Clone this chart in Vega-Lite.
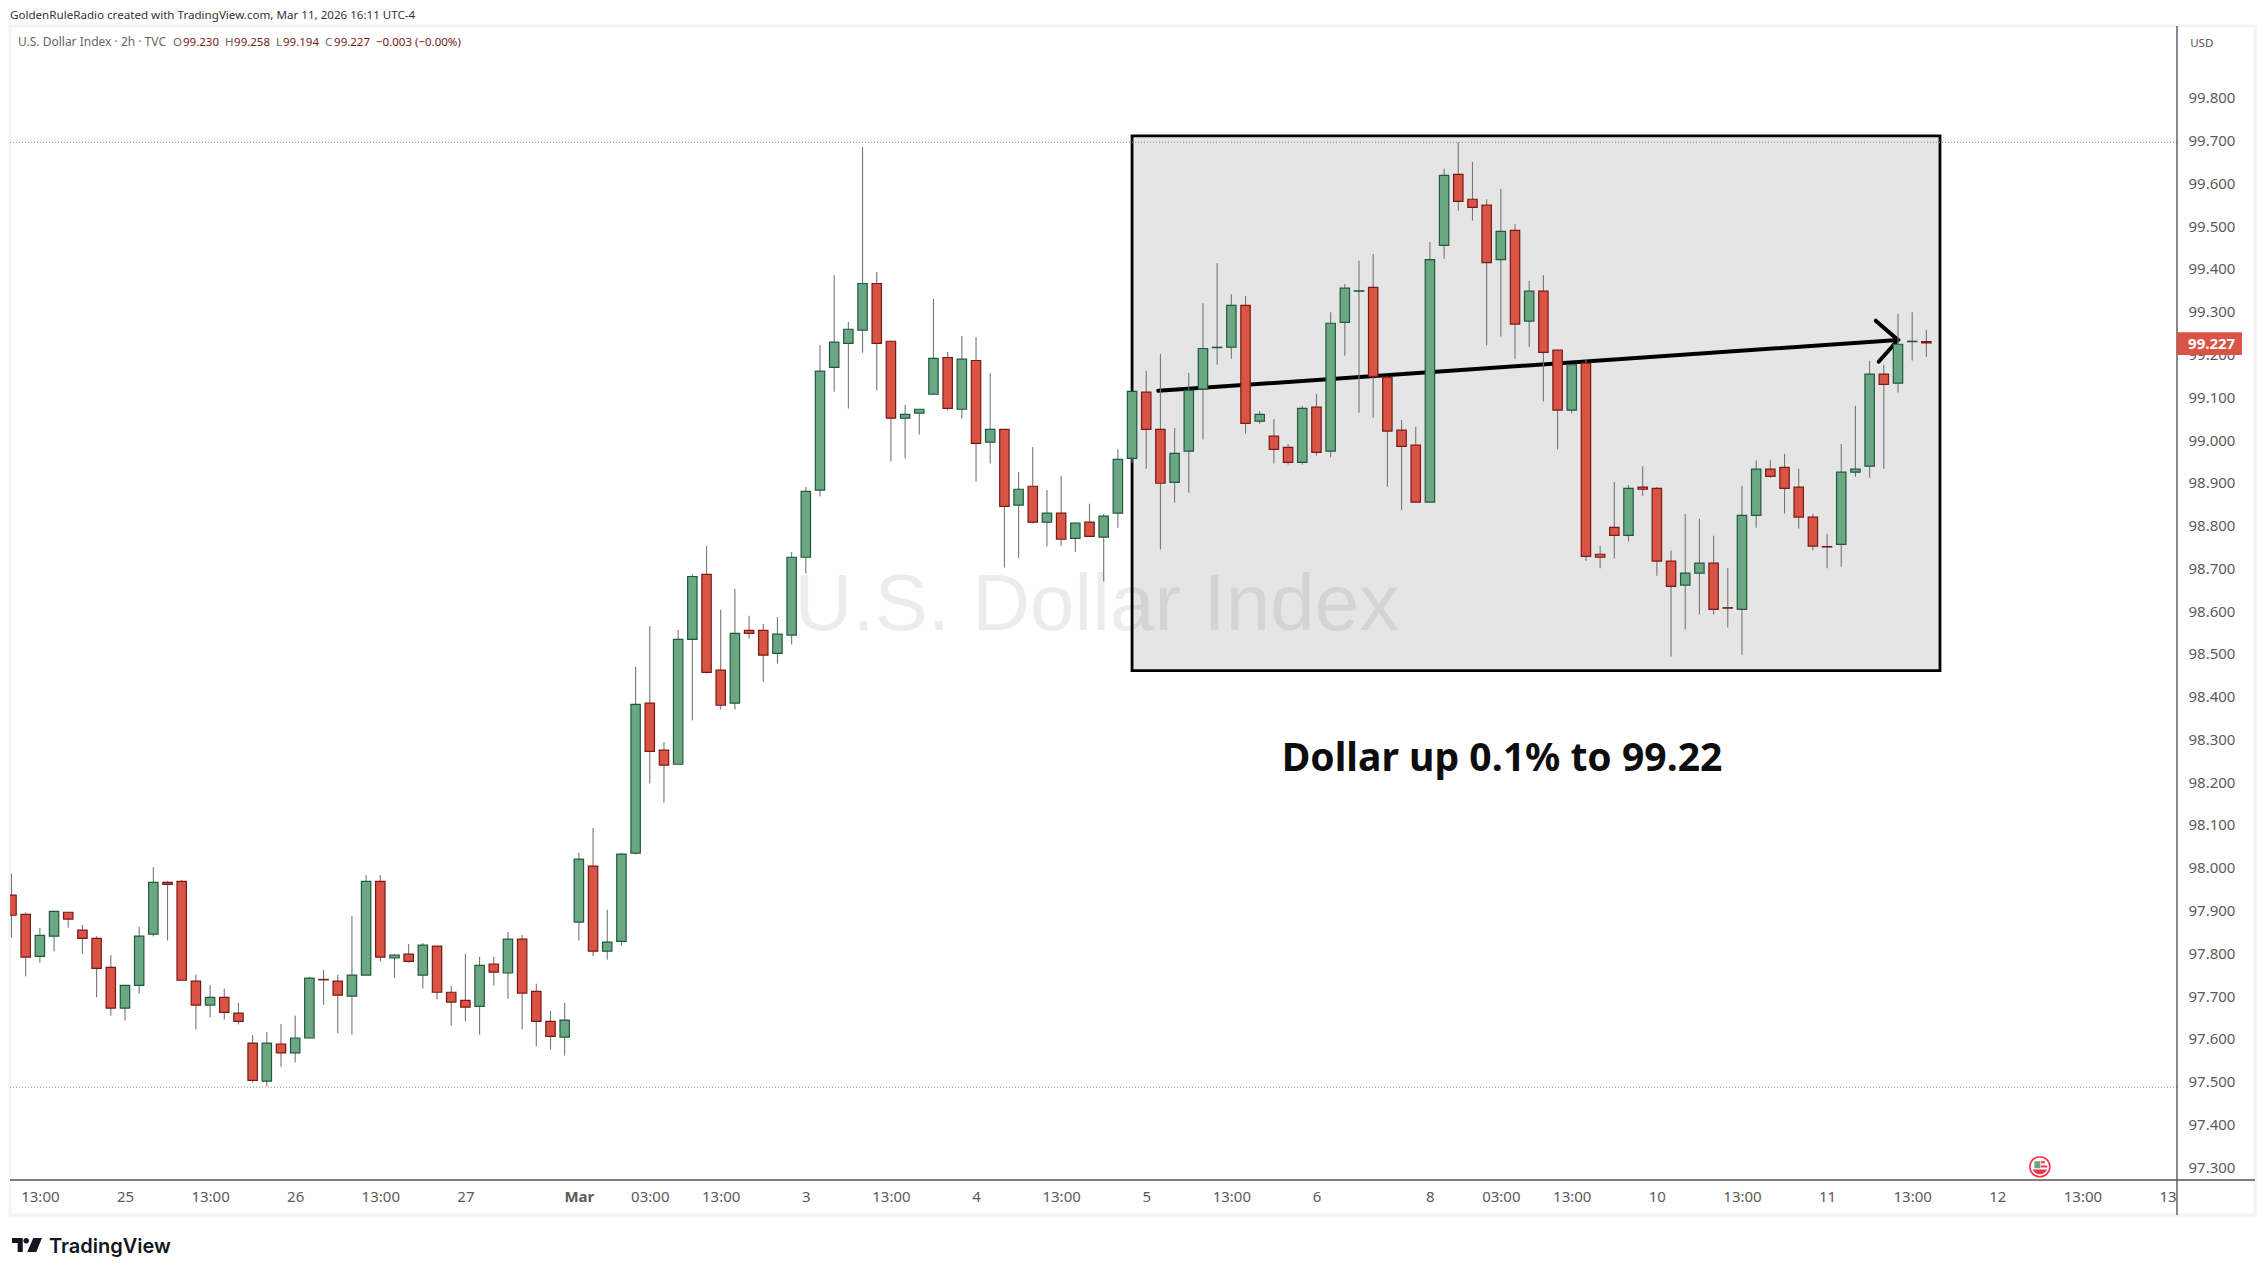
{
"$schema":"https://vega.github.io/schema/vega-lite/v6.json",
"autosize":{"type":"none"},
"padding":{"left":10,"top":26,"right":88,"bottom":96},
"width":2167,"height":1154,
"background":"#ffffff",
"view":{"stroke":null},
"config":{"axis":{"grid":false,"domain":false,"ticks":false,"title":null}},
"datasets":{
"candles":[
{"bar":0,"o":97.936,"h":97.986,"l":97.837,"c":97.889},
{"bar":1,"o":97.891,"h":97.896,"l":97.746,"c":97.791},
{"bar":2,"o":97.793,"h":97.859,"l":97.778,"c":97.842},
{"bar":3,"o":97.840,"h":97.898,"l":97.804,"c":97.898},
{"bar":4,"o":97.896,"h":97.896,"l":97.860,"c":97.880},
{"bar":5,"o":97.854,"h":97.866,"l":97.799,"c":97.835},
{"bar":6,"o":97.835,"h":97.840,"l":97.697,"c":97.765},
{"bar":7,"o":97.767,"h":97.796,"l":97.654,"c":97.672},
{"bar":8,"o":97.672,"h":97.725,"l":97.643,"c":97.725},
{"bar":9,"o":97.725,"h":97.862,"l":97.706,"c":97.840},
{"bar":10,"o":97.845,"h":98.002,"l":97.839,"c":97.966},
{"bar":11,"o":97.966,"h":97.969,"l":97.830,"c":97.961},
{"bar":12,"o":97.968,"h":97.971,"l":97.737,"c":97.737},
{"bar":13,"o":97.735,"h":97.750,"l":97.622,"c":97.679},
{"bar":14,"o":97.679,"h":97.726,"l":97.650,"c":97.697},
{"bar":15,"o":97.697,"h":97.717,"l":97.645,"c":97.662},
{"bar":16,"o":97.660,"h":97.684,"l":97.634,"c":97.641},
{"bar":17,"o":97.590,"h":97.609,"l":97.498,"c":97.503},
{"bar":18,"o":97.501,"h":97.616,"l":97.489,"c":97.590},
{"bar":19,"o":97.588,"h":97.635,"l":97.535,"c":97.567},
{"bar":20,"o":97.567,"h":97.654,"l":97.545,"c":97.602},
{"bar":21,"o":97.602,"h":97.745,"l":97.602,"c":97.742},
{"bar":22,"o":97.739,"h":97.761,"l":97.680,"c":97.738},
{"bar":23,"o":97.735,"h":97.750,"l":97.613,"c":97.702},
{"bar":24,"o":97.700,"h":97.887,"l":97.610,"c":97.749},
{"bar":25,"o":97.749,"h":97.983,"l":97.749,"c":97.968},
{"bar":26,"o":97.968,"h":97.983,"l":97.781,"c":97.791},
{"bar":27,"o":97.789,"h":97.799,"l":97.743,"c":97.796},
{"bar":28,"o":97.798,"h":97.822,"l":97.778,"c":97.781},
{"bar":29,"o":97.749,"h":97.824,"l":97.718,"c":97.819},
{"bar":30,"o":97.817,"h":97.817,"l":97.692,"c":97.709},
{"bar":31,"o":97.709,"h":97.724,"l":97.631,"c":97.686},
{"bar":32,"o":97.690,"h":97.799,"l":97.641,"c":97.674},
{"bar":33,"o":97.676,"h":97.792,"l":97.610,"c":97.772},
{"bar":34,"o":97.775,"h":97.792,"l":97.725,"c":97.756},
{"bar":35,"o":97.754,"h":97.850,"l":97.694,"c":97.833},
{"bar":36,"o":97.833,"h":97.843,"l":97.622,"c":97.707},
{"bar":37,"o":97.711,"h":97.729,"l":97.582,"c":97.641},
{"bar":38,"o":97.641,"h":97.665,"l":97.575,"c":97.606},
{"bar":39,"o":97.604,"h":97.684,"l":97.561,"c":97.644},
{"bar":40,"o":97.873,"h":98.035,"l":97.830,"c":98.020},
{"bar":41,"o":98.004,"h":98.093,"l":97.793,"c":97.805},
{"bar":42,"o":97.805,"h":97.902,"l":97.785,"c":97.826},
{"bar":43,"o":97.828,"h":98.035,"l":97.818,"c":98.032},
{"bar":44,"o":98.034,"h":98.470,"l":98.031,"c":98.382},
{"bar":45,"o":98.385,"h":98.565,"l":98.197,"c":98.272},
{"bar":46,"o":98.275,"h":98.294,"l":98.152,"c":98.240},
{"bar":47,"o":98.242,"h":98.556,"l":98.242,"c":98.534},
{"bar":48,"o":98.534,"h":98.686,"l":98.344,"c":98.681},
{"bar":49,"o":98.686,"h":98.752,"l":98.454,"c":98.457},
{"bar":50,"o":98.462,"h":98.603,"l":98.370,"c":98.380},
{"bar":51,"o":98.385,"h":98.652,"l":98.370,"c":98.548},
{"bar":52,"o":98.555,"h":98.589,"l":98.536,"c":98.548},
{"bar":53,"o":98.555,"h":98.570,"l":98.435,"c":98.497},
{"bar":54,"o":98.501,"h":98.586,"l":98.477,"c":98.546},
{"bar":55,"o":98.544,"h":98.738,"l":98.522,"c":98.726},
{"bar":56,"o":98.726,"h":98.890,"l":98.688,"c":98.880},
{"bar":57,"o":98.883,"h":99.222,"l":98.868,"c":99.161},
{"bar":58,"o":99.170,"h":99.386,"l":99.113,"c":99.229},
{"bar":59,"o":99.226,"h":99.276,"l":99.074,"c":99.259},
{"bar":60,"o":99.257,"h":99.685,"l":99.204,"c":99.366},
{"bar":61,"o":99.366,"h":99.393,"l":99.116,"c":99.226},
{"bar":62,"o":99.231,"h":99.233,"l":98.950,"c":99.051},
{"bar":63,"o":99.051,"h":99.082,"l":98.957,"c":99.060},
{"bar":64,"o":99.063,"h":99.072,"l":99.013,"c":99.072},
{"bar":65,"o":99.107,"h":99.330,"l":99.107,"c":99.191},
{"bar":66,"o":99.193,"h":99.206,"l":99.069,"c":99.074},
{"bar":67,"o":99.072,"h":99.243,"l":99.050,"c":99.189},
{"bar":68,"o":99.186,"h":99.241,"l":98.903,"c":98.992},
{"bar":69,"o":98.995,"h":99.157,"l":98.945,"c":99.025},
{"bar":70,"o":99.025,"h":99.025,"l":98.702,"c":98.845},
{"bar":71,"o":98.848,"h":98.925,"l":98.725,"c":98.885},
{"bar":72,"o":98.892,"h":98.984,"l":98.805,"c":98.808},
{"bar":73,"o":98.808,"h":98.883,"l":98.751,"c":98.829},
{"bar":74,"o":98.829,"h":98.916,"l":98.753,"c":98.768},
{"bar":75,"o":98.770,"h":98.808,"l":98.739,"c":98.806},
{"bar":76,"o":98.808,"h":98.851,"l":98.775,"c":98.775},
{"bar":77,"o":98.773,"h":98.827,"l":98.669,"c":98.822},
{"bar":78,"o":98.829,"h":98.979,"l":98.795,"c":98.955},
{"bar":79,"o":98.957,"h":99.114,"l":98.947,"c":99.114},
{"bar":80,"o":99.112,"h":99.162,"l":98.933,"c":99.025},
{"bar":81,"o":99.025,"h":99.201,"l":98.744,"c":98.899},
{"bar":82,"o":98.901,"h":99.028,"l":98.854,"c":98.969},
{"bar":83,"o":98.974,"h":99.157,"l":98.877,"c":99.116},
{"bar":84,"o":99.119,"h":99.320,"l":99.001,"c":99.214},
{"bar":85,"o":99.216,"h":99.414,"l":99.176,"c":99.217},
{"bar":86,"o":99.217,"h":99.341,"l":99.190,"c":99.315},
{"bar":87,"o":99.315,"h":99.337,"l":99.015,"c":99.039},
{"bar":88,"o":99.044,"h":99.068,"l":99.038,"c":99.060},
{"bar":89,"o":99.009,"h":99.049,"l":98.945,"c":98.978},
{"bar":90,"o":98.983,"h":98.991,"l":98.943,"c":98.948},
{"bar":91,"o":98.948,"h":99.080,"l":98.943,"c":99.074},
{"bar":92,"o":99.077,"h":99.108,"l":98.964,"c":98.971},
{"bar":93,"o":98.974,"h":99.299,"l":98.959,"c":99.273},
{"bar":94,"o":99.275,"h":99.365,"l":99.197,"c":99.355},
{"bar":95,"o":99.348,"h":99.419,"l":99.064,"c":99.349},
{"bar":96,"o":99.357,"h":99.435,"l":99.052,"c":99.149},
{"bar":97,"o":99.147,"h":99.149,"l":98.891,"c":99.021},
{"bar":98,"o":99.023,"h":99.047,"l":98.837,"c":98.985},
{"bar":99,"o":98.988,"h":99.031,"l":98.855,"c":98.855},
{"bar":100,"o":98.855,"h":99.463,"l":98.855,"c":99.422},
{"bar":101,"o":99.455,"h":99.634,"l":99.424,"c":99.619},
{"bar":102,"o":99.621,"h":99.696,"l":99.536,"c":99.558},
{"bar":103,"o":99.563,"h":99.650,"l":99.513,"c":99.544},
{"bar":104,"o":99.549,"h":99.563,"l":99.221,"c":99.415},
{"bar":105,"o":99.422,"h":99.587,"l":99.242,"c":99.488},
{"bar":106,"o":99.490,"h":99.505,"l":99.190,"c":99.271},
{"bar":107,"o":99.278,"h":99.372,"l":99.218,"c":99.348},
{"bar":108,"o":99.348,"h":99.386,"l":99.090,"c":99.205},
{"bar":109,"o":99.210,"h":99.210,"l":98.978,"c":99.070},
{"bar":110,"o":99.070,"h":99.176,"l":99.062,"c":99.176},
{"bar":111,"o":99.180,"h":99.189,"l":98.718,"c":98.728},
{"bar":112,"o":98.733,"h":98.752,"l":98.700,"c":98.726},
{"bar":113,"o":98.796,"h":98.902,"l":98.723,"c":98.777},
{"bar":114,"o":98.777,"h":98.895,"l":98.763,"c":98.887},
{"bar":115,"o":98.890,"h":98.939,"l":98.870,"c":98.885},
{"bar":116,"o":98.887,"h":98.890,"l":98.683,"c":98.717},
{"bar":117,"o":98.717,"h":98.742,"l":98.494,"c":98.658},
{"bar":118,"o":98.661,"h":98.827,"l":98.557,"c":98.689},
{"bar":119,"o":98.689,"h":98.816,"l":98.592,"c":98.712},
{"bar":120,"o":98.712,"h":98.776,"l":98.592,"c":98.604},
{"bar":121,"o":98.608,"h":98.701,"l":98.562,"c":98.607},
{"bar":122,"o":98.604,"h":98.893,"l":98.498,"c":98.824},
{"bar":123,"o":98.824,"h":98.953,"l":98.795,"c":98.932},
{"bar":124,"o":98.932,"h":98.953,"l":98.912,"c":98.915},
{"bar":125,"o":98.936,"h":98.968,"l":98.828,"c":98.887},
{"bar":126,"o":98.890,"h":98.932,"l":98.793,"c":98.820},
{"bar":127,"o":98.820,"h":98.827,"l":98.742,"c":98.752},
{"bar":128,"o":98.751,"h":98.781,"l":98.700,"c":98.750},
{"bar":129,"o":98.756,"h":98.991,"l":98.704,"c":98.925},
{"bar":130,"o":98.925,"h":99.080,"l":98.914,"c":98.932},
{"bar":131,"o":98.939,"h":99.185,"l":98.912,"c":99.154},
{"bar":132,"o":99.154,"h":99.176,"l":98.933,"c":99.130},
{"bar":133,"o":99.133,"h":99.295,"l":99.111,"c":99.224},
{"bar":134,"o":99.230,"h":99.299,"l":99.186,"c":99.231},
{"bar":135,"o":99.230,"h":99.258,"l":99.194,"c":99.227}
]
},
"encoding":{
"x":{"field":"bar","type":"quantitative","title":null,
"scale":{"domain":[-0.106,152.67],"nice":false,"zero":false,"padding":0},
"axis":{"orient":"bottom","domain":false,"grid":false,"ticks":false,"labelPadding":9,"labelFontSize":15,"labelFont":"Noto Sans","labelColor":"#5a5a5a","labelOverlap":false,"labelBound":false,"labelFlush":false,
"values":[2,8,14,20,26,32,40,45,50,56,62,68,74,80,86,92,100,105,110,116,122,128,134,140,146,152],
"labelExpr":"['13:00','25','13:00','26','13:00','27','Mar','03:00','13:00','3','13:00','4','13:00','5','13:00','6','8','03:00','13:00','10','13:00','11','13:00','12','13:00','13'][indexof([2,8,14,20,26,32,40,45,50,56,62,68,74,80,86,92,100,105,110,116,122,128,134,140,146,152],datum.value)]",
"labelFontWeight":{"condition":{"test":"datum.value==40","value":"bold"},"value":"normal"}}}
},
"layer":[
{"data":{"values":[{"bar":-0.106,"bar2":158.17,"price":99.968,"price2":97.188}]},
"mark":{"type":"rect","fill":null,"stroke":"#f3f4f6","strokeWidth":3},
"encoding":{"x2":{"field":"bar2"},
"y":{"field":"price","type":"quantitative","title":null,"scale":{"domain":[97.27,99.968],"nice":false,"zero":false},
"axis":{"orient":"right","domain":false,"grid":false,"ticks":false,"labelPadding":11,"labelFontSize":15,"labelFont":"Noto Sans","labelColor":"#5a5a5a","values":[97.3,97.4,97.5,97.6,97.7,97.8,97.9,98.0,98.1,98.2,98.3,98.4,98.5,98.6,98.7,98.8,98.9,99.0,99.1,99.2,99.3,99.4,99.5,99.6,99.7,99.8],"format":".3f","labelOverlap":false}},
"y2":{"field":"price2"}}},
{"data":{"values":[{"bar":79.0,"bar2":135.96,"price":99.711,"price2":98.461}]},
"mark":{"type":"rect","fill":"#e5e5e5","stroke":"#000000","strokeWidth":2.8},
"encoding":{"x2":{"field":"bar2"},"y":{"field":"price","type":"quantitative","title":null,"scale":{"domain":[97.27,99.968]}},"y2":{"field":"price2"}}},
{"data":{"values":[{"bar":55.2,"price":98.556,"label":"U.S. Dollar Index"}]},
"mark":{"type":"text","font":"Liberation Sans","fontSize":80,"align":"left","baseline":"alphabetic","fill":"#000000","fillOpacity":0.075},
"encoding":{"y":{"field":"price","type":"quantitative","title":null,"scale":{"domain":[97.27,99.968]}},"text":{"field":"label"}}},
{"data":{"values":[{"bar":-0.106,"bar2":152.67,"price":99.696},{"bar":-0.106,"bar2":152.67,"price":97.487}]},
"mark":{"type":"rule","stroke":"#8a8a8a","strokeWidth":1,"strokeDash":[1,2]},
"encoding":{"x2":{"field":"bar2"},"y":{"field":"price","type":"quantitative","title":null,"scale":{"domain":[97.27,99.968]}}}},
{"data":{"values":[{"bar":80.85,"price":99.115},{"bar":133.0,"price":99.234}]},
"mark":{"type":"line","stroke":"#000000","strokeWidth":4,"strokeCap":"round"},
"encoding":{"y":{"field":"price","type":"quantitative","title":null,"scale":{"domain":[97.27,99.968]}}}},
{"data":{"values":[{"bar":131.43,"price":99.279,"k":1},{"bar":133.0,"price":99.234,"k":2},{"bar":131.64,"price":99.183,"k":3}]},
"mark":{"type":"line","stroke":"#000000","strokeWidth":4,"strokeCap":"round","strokeJoin":"miter"},
"encoding":{"order":{"field":"k"},"y":{"field":"price","type":"quantitative","title":null,"scale":{"domain":[97.27,99.968]}}}},
{"data":{"name":"candles"},
"mark":{"type":"rule","stroke":"#767676","strokeWidth":1.1},
"encoding":{"y":{"field":"l","type":"quantitative","title":null,"scale":{"domain":[97.27,99.968]}},"y2":{"field":"h"}}},
{"data":{"name":"candles"},
"mark":{"type":"bar","size":9.4,"orient":"vertical","strokeWidth":1.2,"clip":true},
"encoding":{"y":{"field":"o","type":"quantitative","title":null,"scale":{"domain":[97.27,99.968]}},"y2":{"field":"c"},
"fill":{"condition":{"test":"datum.c>=datum.o","value":"#6ca784"},"value":"#d95444"},
"stroke":{"condition":{"test":"datum.c>=datum.o","value":"#1f5a3e"},"value":"#7a1a14"}}},
{"data":{"values":[{"bar":-0.106,"bar2":158.17,"price":97.27}]},
"mark":{"type":"rule","stroke":"#555555","strokeWidth":1.4},
"encoding":{"x2":{"field":"bar2"},"y":{"field":"price","type":"quantitative","title":null,"scale":{"domain":[97.27,99.968]}}}},
{"data":{"values":[{"bar":152.67,"price":99.968,"price2":97.188}]},
"mark":{"type":"rule","stroke":"#555555","strokeWidth":1.4},
"encoding":{"y":{"field":"price","type":"quantitative","title":null,"scale":{"domain":[97.27,99.968]}},"y2":{"field":"price2"}}},
{"data":{"values":[{"bar":152.67,"bar2":157.25,"price":99.252,"price2":99.199}]},
"mark":{"type":"rect","fill":"#d95444","cornerRadius":1},
"encoding":{"x2":{"field":"bar2"},"y":{"field":"price","type":"quantitative","title":null,"scale":{"domain":[97.27,99.968]}},"y2":{"field":"price2"}}},
{"data":{"values":[
{"bar":-0.106,"price":99.984,"label":"GoldenRuleRadio created with TradingView.com, Mar 11, 2026 16:11 UTC-4","col":"#333333","size":11.6},
{"bar":0.458,"price":99.921,"label":"U.S. Dollar Index · 2h · TVC","col":"#666666","size":12},
{"bar":11.39,"price":99.921,"label":"O","col":"#666666","size":11.5},
{"bar":12.09,"price":99.921,"label":"99.230","col":"#7a1a14","size":11.5},
{"bar":15.05,"price":99.921,"label":"H","col":"#666666","size":11.5},
{"bar":15.69,"price":99.921,"label":"99.258","col":"#7a1a14","size":11.5},
{"bar":18.65,"price":99.921,"label":"L","col":"#666666","size":11.5},
{"bar":19.14,"price":99.921,"label":"99.194","col":"#7a1a14","size":11.5},
{"bar":22.1,"price":99.921,"label":"C","col":"#666666","size":11.5},
{"bar":22.74,"price":99.921,"label":"99.227","col":"#7a1a14","size":11.5},
{"bar":25.7,"price":99.921,"label":"−0.003 (−0.00%)","col":"#7a1a14","size":11.5},
{"bar":153.6,"price":99.919,"label":"USD","col":"#555555","size":11.5}
]},
"mark":{"type":"text","align":"left","baseline":"alphabetic","font":"Noto Sans"},
"encoding":{"y":{"field":"price","type":"quantitative","title":null,"scale":{"domain":[97.27,99.968]}},"text":{"field":"label"},
"color":{"field":"col","type":"nominal","scale":null,"legend":null},
"size":{"field":"size","type":"quantitative","scale":null,"legend":null}}},
{"data":{"values":[
{"bar":153.45,"price":99.2126,"label":"99.227","col":"#ffffff","size":15},
{"bar":89.55,"price":98.227,"label":"Dollar up 0.1% to 99.22","col":"#0d0d0d","size":39.1}
]},
"mark":{"type":"text","align":"left","baseline":"alphabetic","font":"Noto Sans","fontWeight":"bold"},
"encoding":{"y":{"field":"price","type":"quantitative","title":null,"scale":{"domain":[97.27,99.968]}},"text":{"field":"label"},
"color":{"field":"col","type":"nominal","scale":null,"legend":null},
"size":{"field":"size","type":"quantitative","scale":null,"legend":null}}},
{"data":{"values":[{"bar":2.64,"price":97.1,"label":"TradingView"}]},
"mark":{"type":"text","align":"left","baseline":"alphabetic","font":"Inter","fontWeight":600,"fontSize":20,"fill":"#131722"},
"encoding":{"y":{"field":"price","type":"quantitative","title":null,"scale":{"domain":[97.27,99.968]}},"text":{"field":"label"}}},
{"data":{"values":[{"bar":1.09,"price":97.118}]},
"mark":{"type":"point","filled":true,"fill":"#131722","stroke":null,"size":900,"opacity":1,"shape":"M-1,-.47 H-.28 V.47 H-.62 V-.13 H-1 Z M-.24,-.28 a.19,.19 0 1 0 .38,0 a.19,.19 0 1 0 -.38,0 Z M.42,-.47 H1 L.62,.47 H.02 Z"},
"encoding":{"y":{"field":"price","type":"quantitative","title":null,"scale":{"domain":[97.27,99.968]}}}},
{"data":{"values":[{"bar":143.0,"price":97.301}]},
"mark":{"type":"point","filled":false,"fill":"#ffffff","stroke":"#f23645","strokeWidth":1.6,"size":400,"opacity":1,"shape":"circle"},
"encoding":{"y":{"field":"price","type":"quantitative","title":null,"scale":{"domain":[97.27,99.968]}}}},
{"data":{"values":[{"bar":143.0,"price":97.301}]},
"mark":{"type":"point","filled":true,"fill":"#f23645","stroke":null,"size":400,"opacity":1,"shape":"M-.72,.28 H.72 A.78,.78 0 0 1 -.72,.28 Z M.1,-.12 H.74 V.08 H.1 Z M.1,-.55 H.5 V-.35 H.1 Z"},
"encoding":{"y":{"field":"price","type":"quantitative","title":null,"scale":{"domain":[97.27,99.968]}}}},
{"data":{"values":[{"bar":143.0,"price":97.301}]},
"mark":{"type":"point","filled":true,"fill":"#6ca784","stroke":null,"size":400,"opacity":1,"shape":"M-.55,-.55 H.05 V.15 H-.55 Z"},
"encoding":{"y":{"field":"price","type":"quantitative","title":null,"scale":{"domain":[97.27,99.968]}}}}
]
}
